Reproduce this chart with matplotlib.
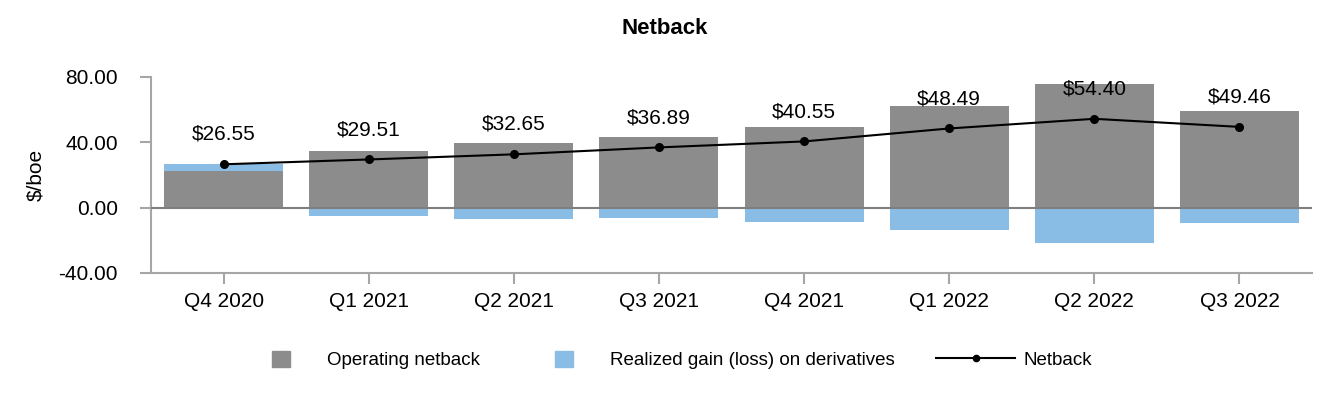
import numpy as np
import matplotlib
matplotlib.use("Agg")
import matplotlib.pyplot as plt
from matplotlib.patches import Patch
from matplotlib.lines import Line2D

plt.rcParams['font.family'] = ['Liberation Sans', 'DejaVu Sans']

quarters = ["Q4 2020", "Q1 2021", "Q2 2021", "Q3 2021",
            "Q4 2021", "Q1 2022", "Q2 2022", "Q3 2022"]
operating = [22.70, 34.60, 39.60, 43.40, 49.30, 62.00, 75.80, 58.90]
realized = [3.85, -5.09, -6.95, -6.51, -8.75, -13.51, -21.40, -9.44]
netback = [26.55, 29.51, 32.65, 36.89, 40.55, 48.49, 54.40, 49.46]
yticks = [-40, 0, 40, 80]

gray = "#8c8c8c"
blue = "#89bde6"
axis_col = "#a6a6a6"

fig = plt.figure(figsize=(13.32, 4.0), dpi=100)
ax = fig.add_axes([0.1134, 0.3175, 0.8716, 0.49])

x = np.arange(len(quarters))
op = np.array(operating)
re = np.array(realized)
w = 0.82
ax.bar(x, op, w, color=gray, zorder=2)
# positive gain stacks on top of operating netback, losses go below zero
bottoms = np.where(re > 0, op, 0)
ax.bar(x, re, w, bottom=bottoms, color=blue, zorder=2)

ax.axhline(0, color="#7f7f7f", lw=1.5, zorder=3)
ax.plot(x, netback, color="black", lw=1.5, marker="o", ms=5.5, zorder=4)

for xi, v in zip(x, netback):
    ax.annotate(f"${v:.2f}", (xi, v), xytext=(0, 21.5), textcoords="offset points",
                ha="center", va="center", fontsize=15)

ax.set_xlim(-0.5, 7.5)
ax.set_ylim(-40, 80)
ax.set_yticks(yticks)
ax.set_yticklabels([f"{t:.2f}" for t in yticks])
ax.set_xticks(x)
ax.set_xticklabels(quarters)
ax.tick_params(axis="both", labelsize=15, color=axis_col, width=1.5, length=8)
ax.tick_params(axis="x", pad=6)
ax.tick_params(axis="y", pad=16)
for s in ["top", "right"]:
    ax.spines[s].set_visible(False)
for s in ["left", "bottom"]:
    ax.spines[s].set_color(axis_col)
    ax.spines[s].set_linewidth(1.5)

ax.set_ylabel("$/boe", fontsize=15, labelpad=9)
fig.text(0.499, 0.93, "Netback", ha="center", va="center",
         fontsize=16, fontweight="bold")

leg_kw = dict(loc="center left", frameon=False, borderpad=0,
              borderaxespad=0, fontsize=13.5)
fig.legend(handles=[Patch(color=gray, label="Operating netback")],
           bbox_to_anchor=(0.204, 0.1), handlelength=0.95, handleheight=1.0,
           handletextpad=2.0, **leg_kw)
fig.legend(handles=[Patch(color=blue, label="Realized gain (loss) on derivatives")],
           bbox_to_anchor=(0.4167, 0.1), handlelength=0.95, handleheight=1.0,
           handletextpad=2.0, **leg_kw)
fig.legend(handles=[Line2D([], [], color="black", lw=1.5, marker="o", ms=4.5,
                           label="Netback")],
           bbox_to_anchor=(0.703, 0.1), handlelength=4.2,
           handletextpad=0.43, **leg_kw)

fig.savefig("out.png", dpi=100)
